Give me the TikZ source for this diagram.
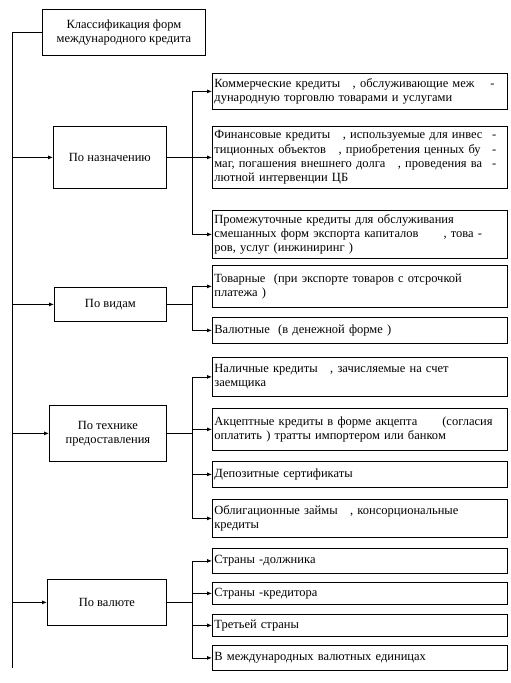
\documentclass[tikz,border=0pt]{standalone}
\usepackage{fontspec}
\setmainfont{Liberation Serif}
\usetikzlibrary{arrows.meta}
\begin{document}
\begin{tikzpicture}[x=1bp,y=-1bp,
  every node/.style={font=\fontsize{12.5bp}{14.3bp}\selectfont},
  box/.style={draw, line width=0.8bp, inner xsep=2bp, inner ysep=0bp, anchor=north west},
  leaf/.style={box, text width=291bp, align=left},
  branch/.style={box, align=center},
  line/.style={line width=0.8bp},
  arr/.style={line width=0.8bp, -{Latex[length=5bp,width=4bp]}}
]
\useasboundingbox (0,0) rectangle (511,683);

% top
\node[branch, minimum width=163bp, minimum height=46bp] (top) at (42,9)
  {Классификация форм\\международного кредита};

% branches
\node[branch, minimum width=113bp, minimum height=62bp] (naz) at (53,126) {По назначению};
\node[branch, minimum width=112bp, minimum height=34bp] (vid) at (54,287) {По видам};
\node[branch, minimum width=117bp, minimum height=56bp] (tech) at (49,405) {По технике\\предоставления};
\node[branch, minimum width=119bp, minimum height=46bp] (val) at (47,579) {По валюте};

% leaves
\node[leaf, minimum height=36bp] (k1) at (212,73)
  {Коммерческие кредиты\quad, обслуживающие меж\hfill-\rule{11bp}{0pt}\\дународную торговлю товарами и услугами};
\node[leaf, minimum height=62bp] (k2) at (212,126)
  {Финансовые кредиты\quad, используемые для инвес\hfill-\rule{9bp}{0pt}\\тиционных объектов\quad, приобретения ценных бу\hfill-\rule{9bp}{0pt}\\маг, погашения внешнего долга\quad, проведения ва\hfill-\rule{9bp}{0pt}\\лютной интервенции ЦБ};
\node[leaf, minimum height=48bp] (k3) at (212,210)
  {Промежуточные кредиты для обслуживания\\смешанных форм экспорта капиталов\qquad, това -\\ров, услуг (инжиниринг )};

\node[leaf, minimum height=42bp] (v1) at (212,265)
  {Товарные\ \ (при экспорте товаров с отсрочкой\\платежа )};
\node[leaf, minimum height=26bp] (v2) at (212,317)
  {Валютные\ \ (в денежной форме )};

\node[leaf, minimum height=39bp] (t1) at (212,357)
  {Наличные кредиты\quad, зачисляемые на счет\\заемщика};
\node[leaf, minimum height=42bp] (t2) at (212,408)
  {Акцептные кредиты в форме акцепта\qquad(согласия\\оплатить ) тратты импортером или банком};
\node[leaf, minimum height=26bp] (t3) at (212,461)
  {Депозитные сертификаты};
\node[leaf, minimum height=38bp] (t4) at (212,499)
  {Облигационные займы\quad, консорциональные\\кредиты};

\node[leaf, minimum height=25bp] (c1) at (212,548) {Страны -должника};
\node[leaf, minimum height=22bp] (c2) at (212,582) {Страны -кредитора};
\node[leaf, minimum height=22bp] (c3) at (212,614) {Третьей страны};
\node[leaf, minimum height=25bp] (c4) at (212,645) {В международных валютных единицах};

% trunk
\coordinate (tB) at (12,668);
\draw[line] (top.west) -| (tB);
\foreach \b in {naz,vid,tech,val}
  \draw[arr] (tB |- \b.west) -- (\b.west);

% spines
\draw[line] (naz.east) -- ++(26,0) coordinate (j1);
\foreach \l in {k1,k2,k3} \draw[arr] (j1) |- (\l.west);
\draw[line] (vid.east) -- ++(26,0) coordinate (j2);
\foreach \l in {v1,v2} \draw[arr] (j2) |- (\l.west);
\draw[line] (tech.east) -- ++(26,0) coordinate (j3);
\foreach \l in {t1,t2,t3,t4} \draw[arr] (j3) |- (\l.west);
\draw[line] (val.east) -- ++(26,0) coordinate (j4);
\foreach \l in {c1,c2,c3,c4} \draw[arr] (j4) |- (\l.west);
\end{tikzpicture}
\end{document}
